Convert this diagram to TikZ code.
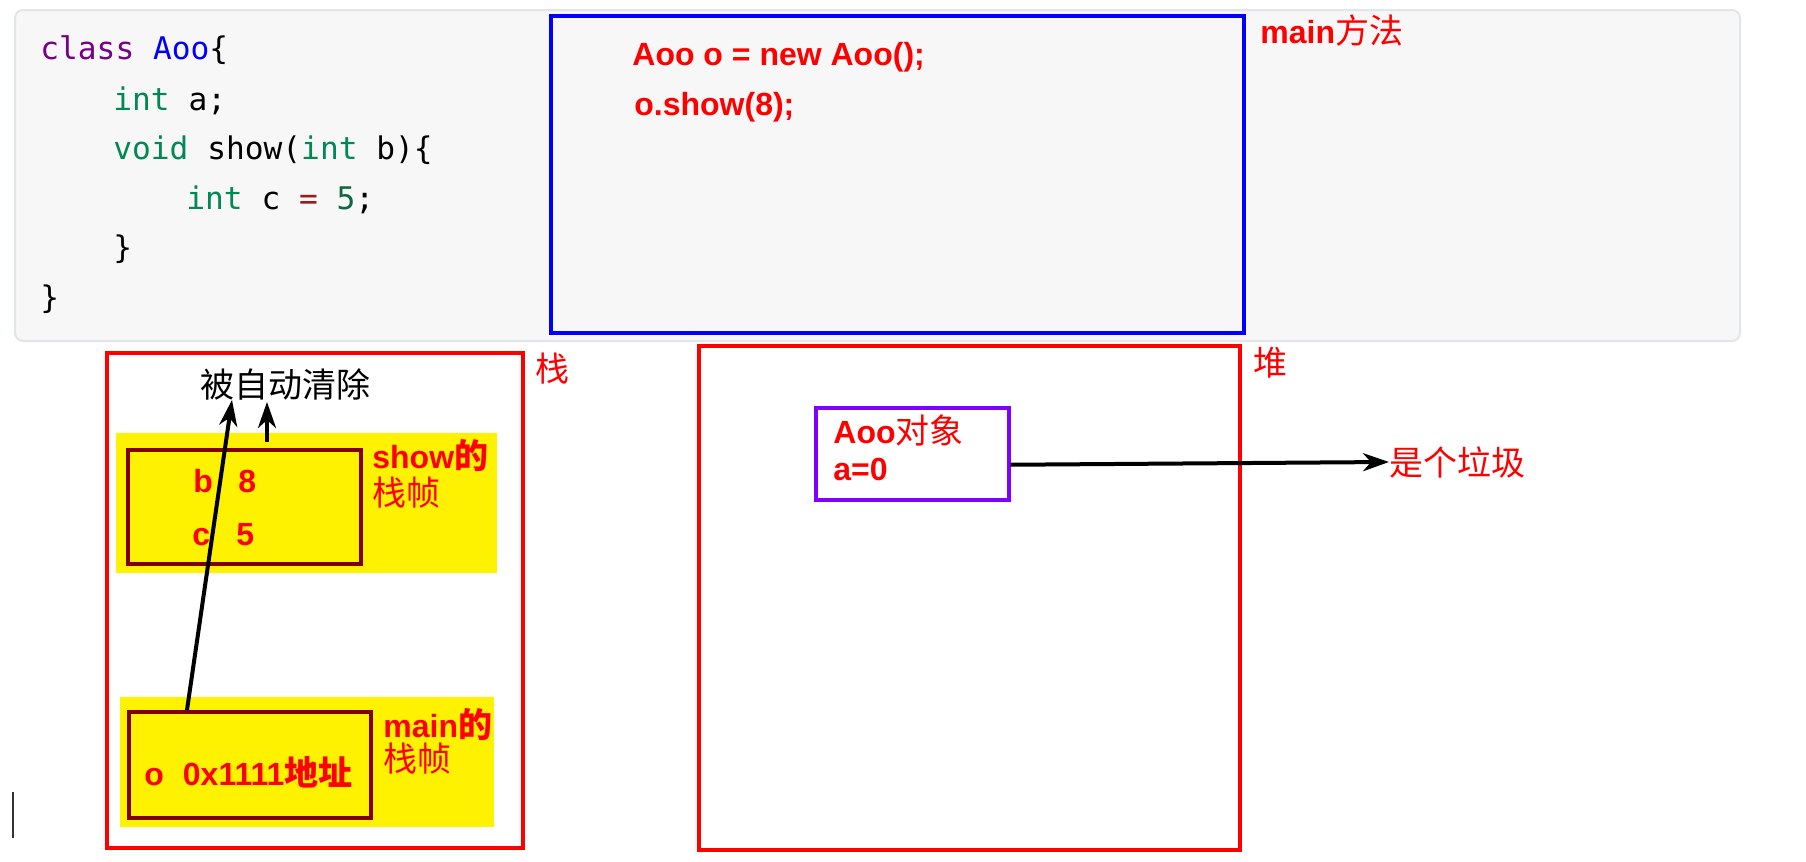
\documentclass[tikz,border=0pt]{standalone}
\usepackage{fontspec}
\setmainfont{Liberation Sans}
\newfontfamily\cjk{Noto Sans CJK SC}
\newfontfamily\codefont{DejaVu Sans Mono}
\usepackage{xcolor}
\usetikzlibrary{arrows.meta,calc,shadows}

\definecolor{codebg}{HTML}{F7F7F7}
\definecolor{codeedge}{HTML}{E2E5E9}
\definecolor{kwpurple}{HTML}{770088}
\definecolor{typegreen}{HTML}{008855}
\definecolor{numgreen}{HTML}{116644}
\definecolor{opred}{HTML}{981A1A}
\definecolor{framered}{HTML}{800000}
\definecolor{objviolet}{HTML}{8000FF}

\newcommand{\zh}[1]{{\cjk\fontsize{17}{20}\selectfont #1}}

\begin{document}
\begin{tikzpicture}[
  x=0.5pt, y=-0.5pt,
  softshadow/.style={drop shadow={shadow xshift=1.2pt, shadow yshift=-1.2pt,
    opacity=0.22, fill=black}},
  regionbox/.style={draw=red, line width=1.75pt, fill=white, softshadow,
    anchor=north west, inner sep=0pt},
  band/.style={fill=yellow, anchor=north west, inner sep=0pt},
  framebox/.style={draw=framered, line width=1.75pt, fill=yellow, softshadow,
    anchor=north west, inner sep=0pt},
  codeln/.style={font=\codefont\fontsize{15.6}{18}\selectfont,
    anchor=base west, inner sep=0pt},
  redtxt/.style={text=red, font=\fontsize{16}{19}\selectfont\bfseries,
    anchor=base west, inner sep=0pt},
  redzh/.style={text=red, font=\cjk\fontsize{17}{20}\selectfont,
    anchor=base west, inner sep=0pt},
  ptr/.style={-{Stealth[length=13pt, width=9pt, inset=4pt]}, line width=2pt},
]
\useasboundingbox (0,0) rectangle (1806,862);

% ── Code panel ───────────────────────────────────────────────────────────────
\node[draw=codeedge, line width=1pt, fill=codebg, rounded corners=4pt,
  minimum width=862.5pt, minimum height=165.5pt, anchor=north west,
  inner sep=0pt] (panel) at (14,9) {};
\node[codeln] (l1) at (40,60)
  {\textcolor{kwpurple}{class} \textcolor{blue}{Aoo}\{};
\node[codeln] (l2) at (113,110) {\textcolor{typegreen}{int} a;};
\node[codeln] (l3) at (113,159)
  {\textcolor{typegreen}{void} show(\textcolor{typegreen}{int} b)\{};
\node[codeln] (l4) at (186,209)
  {\textcolor{typegreen}{int} c \textcolor{opred}{=} \textcolor{numgreen}{5};};
\node[codeln] (l5) at (113,258) {\}};
\node[codeln] (l6) at (40,308) {\}};

% ── main method ──────────────────────────────────────────────────────────────
\node[draw=blue, line width=1.75pt, fill=codebg, softshadow,
  minimum width=346.5pt, minimum height=158.5pt, anchor=north west,
  inner sep=0pt] (mainbox) at (549,14) {};
\node[redtxt] (newobj) at (632,65) {Aoo o = new Aoo();};
\node[redtxt] (callshow) at (634,115) {o.show(8);};
\node[redtxt] (mainlbl) at (1260,43) {main\zh{\mdseries 方法}};

% ── Stack ────────────────────────────────────────────────────────────────────
\node[regionbox, minimum width=208pt, minimum height=247.5pt] (stack) at (105,351) {};
\node[redzh] (stacklbl) at (535,381) {栈};
\node[font=\cjk\fontsize{17}{20}\selectfont, anchor=base west, inner sep=0pt]
  (clear) at (200,397) {被自动清除};

\node[band, minimum width=190.5pt, minimum height=70pt] (band1) at (116,433) {};
\node[framebox, minimum width=116.5pt, minimum height=57pt] (showframe) at (126,448) {};
\node[redtxt] (bvar) at (193,492) {b};
\node[redtxt] (bval) at (238,492) {8};
\node[redtxt] (cvar) at (192,545) {c};
\node[redtxt] (cval) at (236,545) {5};
\node[redtxt] (showlbl) at (372,468) {show\zh{的}};
\node[redzh] (showlbl2) at (372,505) {栈帧};

\node[band, minimum width=187pt, minimum height=65pt] (band2) at (120,697) {};
\node[framebox, minimum width=121pt, minimum height=53pt] (mainframe) at (127,710) {};
\node[redtxt] (oref) at (144,785) {o\hspace{9.5pt}0x1111\zh{地址}};
\node[redtxt] (mainfr) at (383,737) {main\zh{的}};
\node[redzh] (mainfr2) at (383,771) {栈帧};

% ── Heap ─────────────────────────────────────────────────────────────────────
\node[regionbox, minimum width=270.5pt, minimum height=252pt] (heap) at (697,344) {};
\node[redzh] (heaplbl) at (1253,375) {堆};
\node[draw=objviolet, line width=1.75pt, fill=white, softshadow,
  minimum width=96.5pt, minimum height=46pt, anchor=north west,
  inner sep=0pt] (obj) at (814,406) {};
\node[redtxt] (objname) at (833,443) {Aoo\zh{\mdseries 对象}};
\node[redtxt] (objfield) at (833,480) {a=0};
\node[redzh] (garbage) at (1389,475) {是个垃圾};

% ── Pointers ─────────────────────────────────────────────────────────────────
\draw[ptr] ($(mainframe.north west)+(60,0)$) -- ($(clear.base west)+(32,3)$);
\draw[ptr] ($(showframe.north west)+(141,-6)$) -- ($(clear.base west)+(67,5)$);
\draw[ptr] ($(obj.east)+(0,11)$) -- (garbage.west);

% cursor mark
\draw[gray!40!black, line width=0.6pt] (13,792) -- (13,838);

\end{tikzpicture}
\end{document}
